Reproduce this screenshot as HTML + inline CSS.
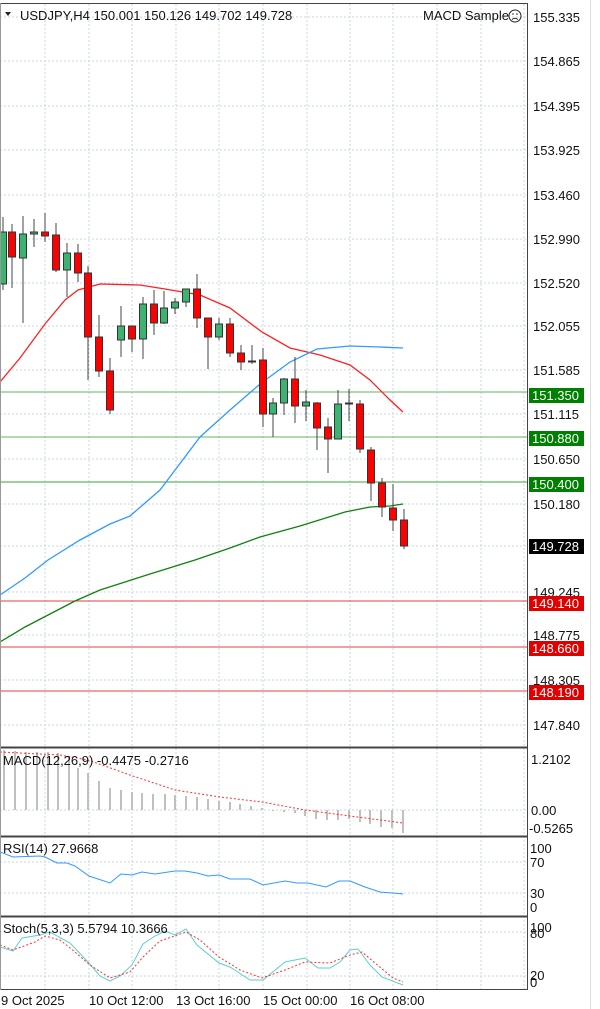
<!DOCTYPE html>
<html><head><meta charset="utf-8"><style>
body{margin:0;background:#fff;width:600px;height:1009px;overflow:hidden}
svg{display:block;font-family:"Liberation Sans",sans-serif}
</style></head><body>
<svg width="600" height="1009" viewBox="0 0 600 1009">
<rect width="600" height="1009" fill="#fff"/>
<g stroke="#c8d4e4" stroke-dasharray="2,2" stroke-width="1">
<line x1="45" y1="4" x2="45" y2="990"/><line x1="89" y1="4" x2="89" y2="990"/><line x1="132" y1="4" x2="132" y2="990"/><line x1="176" y1="4" x2="176" y2="990"/><line x1="219" y1="4" x2="219" y2="990"/><line x1="263" y1="4" x2="263" y2="990"/><line x1="307" y1="4" x2="307" y2="990"/><line x1="350" y1="4" x2="350" y2="990"/><line x1="393" y1="4" x2="393" y2="990"/><line x1="437" y1="4" x2="437" y2="990"/><line x1="481" y1="4" x2="481" y2="990"/><line x1="524" y1="4" x2="524" y2="990"/>
<line x1="0" y1="17" x2="527" y2="17"/><line x1="0" y1="61" x2="527" y2="61"/><line x1="0" y1="106" x2="527" y2="106"/><line x1="0" y1="150" x2="527" y2="150"/><line x1="0" y1="195" x2="527" y2="195"/><line x1="0" y1="239" x2="527" y2="239"/><line x1="0" y1="283" x2="527" y2="283"/><line x1="0" y1="326" x2="527" y2="326"/><line x1="0" y1="370" x2="527" y2="370"/><line x1="0" y1="414" x2="527" y2="414"/><line x1="0" y1="459" x2="527" y2="459"/><line x1="0" y1="504" x2="527" y2="504"/><line x1="0" y1="546" x2="527" y2="546"/><line x1="0" y1="592" x2="527" y2="592"/><line x1="0" y1="635" x2="527" y2="635"/><line x1="0" y1="680" x2="527" y2="680"/><line x1="0" y1="725" x2="527" y2="725"/>
<line x1="0" y1="810" x2="527" y2="810"/><line x1="0" y1="862" x2="527" y2="862"/><line x1="0" y1="893" x2="527" y2="893"/><line x1="0" y1="932" x2="527" y2="932"/><line x1="0" y1="976" x2="527" y2="976"/>
</g>
<g stroke-width="1">
<line x1="0" y1="392" x2="527" y2="392" stroke="#5cb85c"/><line x1="0" y1="437" x2="527" y2="437" stroke="#5cb85c"/><line x1="0" y1="482" x2="527" y2="482" stroke="#3aa63a"/>
<line x1="0" y1="601" x2="527" y2="601" stroke="#e04040"/><line x1="0" y1="647" x2="527" y2="647" stroke="#e04040"/><line x1="0" y1="691" x2="527" y2="691" stroke="#e04040"/>
</g>
<polyline fill="none" stroke="#ff2020" stroke-width="1.3" points="0,382 20,358 45,324 65,300 78,290 100,284 140,285 165,289 200,295 230,308 262,332 290,348 320,355 350,365 370,380 390,400 403,412"/>
<polyline fill="none" stroke="#3399ff" stroke-width="1.3" points="0,595 25,578 48,560 80,540 110,524 130,516 160,490 200,437 230,410 260,384 290,362 317,349 350,346 380,347 403,348"/>
<polyline fill="none" stroke="#108010" stroke-width="1.3" points="0,642 25,627 50,614 75,601 100,590 150,574 195,560 230,548 260,537 300,526 345,512 370,507 390,506 403,504"/>
<g stroke="#444" stroke-width="1">
<line x1="3" y1="217" x2="3" y2="290"/><line x1="12" y1="224" x2="12" y2="288"/><line x1="23" y1="216" x2="23" y2="323"/><line x1="34" y1="219" x2="34" y2="247"/><line x1="45" y1="213" x2="45" y2="242"/><line x1="56" y1="223" x2="56" y2="272"/><line x1="67" y1="243" x2="67" y2="297"/><line x1="78" y1="244" x2="78" y2="282"/><line x1="88" y1="266" x2="88" y2="380"/><line x1="99" y1="315" x2="99" y2="377"/><line x1="110" y1="358" x2="110" y2="414"/><line x1="121" y1="306" x2="121" y2="357"/><line x1="132" y1="326" x2="132" y2="352"/><line x1="143" y1="297" x2="143" y2="359"/><line x1="154" y1="290" x2="154" y2="335"/><line x1="164" y1="291" x2="164" y2="324"/><line x1="175" y1="298" x2="175" y2="314"/><line x1="186" y1="289" x2="186" y2="307"/><line x1="197" y1="274" x2="197" y2="328"/><line x1="208" y1="318" x2="208" y2="369"/><line x1="219" y1="318" x2="219" y2="340"/><line x1="230" y1="318" x2="230" y2="357"/><line x1="241" y1="345" x2="241" y2="370"/><line x1="252" y1="345" x2="252" y2="364"/><line x1="263" y1="348" x2="263" y2="427"/><line x1="273" y1="398" x2="273" y2="437"/><line x1="284" y1="378" x2="284" y2="415"/><line x1="295" y1="357" x2="295" y2="423"/><line x1="306" y1="390" x2="306" y2="421"/><line x1="317" y1="402" x2="317" y2="450"/><line x1="328" y1="418" x2="328" y2="473"/><line x1="338" y1="390" x2="338" y2="439"/><line x1="349" y1="389" x2="349" y2="421"/><line x1="360" y1="400" x2="360" y2="453"/><line x1="371" y1="447" x2="371" y2="501"/><line x1="382" y1="478" x2="382" y2="517"/><line x1="393" y1="484" x2="393" y2="531"/><line x1="404" y1="509" x2="404" y2="549"/>
</g>
<g stroke="#333" stroke-width="1">
<rect x="-0.5" y="232" width="7" height="52" fill="#3cb371"/><rect x="8.5" y="232" width="7" height="25" fill="#f00"/><rect x="19.5" y="234" width="7" height="24" fill="#3cb371"/><rect x="30.5" y="232" width="7" height="2" fill="#3cb371"/><rect x="41.5" y="232" width="7" height="4" fill="#f00"/><rect x="52.5" y="235" width="7" height="35" fill="#f00"/><rect x="63.5" y="253" width="7" height="17" fill="#3cb371"/><rect x="74.5" y="253" width="7" height="20" fill="#f00"/><rect x="84.5" y="273" width="7" height="64" fill="#f00"/><rect x="95.5" y="337" width="7" height="34" fill="#f00"/><rect x="106.5" y="371" width="7" height="39" fill="#f00"/><rect x="117.5" y="326" width="7" height="14" fill="#3cb371"/><rect x="128.5" y="326" width="7" height="13" fill="#f00"/><rect x="139.5" y="304" width="7" height="35" fill="#3cb371"/><rect x="150.5" y="304" width="7" height="19" fill="#f00"/><rect x="160.5" y="308" width="7" height="15" fill="#3cb371"/><rect x="171.5" y="302" width="7" height="6" fill="#3cb371"/><rect x="182.5" y="289" width="7" height="13" fill="#3cb371"/><rect x="193.5" y="289" width="7" height="29" fill="#f00"/><rect x="204.5" y="318" width="7" height="19" fill="#f00"/><rect x="215.5" y="324" width="7" height="13" fill="#3cb371"/><rect x="226.5" y="324" width="7" height="29" fill="#f00"/><rect x="237.5" y="353" width="7" height="9" fill="#f00"/><rect x="248.5" y="361" width="7" height="1" fill="#3cb371"/><rect x="259.5" y="360" width="7" height="54" fill="#f00"/><rect x="269.5" y="403" width="7" height="11" fill="#3cb371"/><rect x="280.5" y="379" width="7" height="24" fill="#3cb371"/><rect x="291.5" y="379" width="7" height="27" fill="#f00"/><rect x="302.5" y="402" width="7" height="4" fill="#3cb371"/><rect x="313.5" y="403" width="7" height="25" fill="#f00"/><rect x="324.5" y="427" width="7" height="12" fill="#f00"/><rect x="334.5" y="404" width="7" height="35" fill="#3cb371"/><rect x="345.5" y="403" width="7" height="1" fill="#3cb371"/><rect x="356.5" y="404" width="7" height="45" fill="#f00"/><rect x="367.5" y="450" width="7" height="33" fill="#f00"/><rect x="378.5" y="483" width="7" height="24" fill="#f00"/><rect x="389.5" y="508" width="7" height="12" fill="#f00"/><rect x="400.5" y="520" width="7" height="26" fill="#f00"/>
</g>
<g stroke="#c0c0c0" stroke-width="2">
<line x1="4" y1="810" x2="4" y2="750"/><line x1="15" y1="810" x2="15" y2="751"/><line x1="26" y1="810" x2="26" y2="752"/><line x1="37" y1="810" x2="37" y2="752"/><line x1="48" y1="810" x2="48" y2="752"/><line x1="58" y1="810" x2="58" y2="753"/><line x1="69" y1="810" x2="69" y2="756"/><line x1="78" y1="810" x2="78" y2="768"/><line x1="88" y1="810" x2="88" y2="773"/><line x1="99" y1="810" x2="99" y2="781"/><line x1="110" y1="810" x2="110" y2="788"/><line x1="121" y1="810" x2="121" y2="790"/><line x1="132" y1="810" x2="132" y2="792"/><line x1="142" y1="810" x2="142" y2="793"/><line x1="153" y1="810" x2="153" y2="794"/><line x1="165" y1="810" x2="165" y2="794"/><line x1="175" y1="810" x2="175" y2="795"/><line x1="186" y1="810" x2="186" y2="796"/><line x1="197" y1="810" x2="197" y2="797"/><line x1="208" y1="810" x2="208" y2="799"/><line x1="219" y1="810" x2="219" y2="801"/><line x1="230" y1="810" x2="230" y2="802"/><line x1="240" y1="810" x2="240" y2="804"/><line x1="251" y1="810" x2="251" y2="806"/><line x1="262" y1="810" x2="262" y2="808"/><line x1="273" y1="810" x2="273" y2="811"/><line x1="284" y1="810" x2="284" y2="812"/><line x1="295" y1="810" x2="295" y2="813"/><line x1="305" y1="810" x2="305" y2="816"/><line x1="316" y1="810" x2="316" y2="819"/><line x1="327" y1="810" x2="327" y2="820"/><line x1="338" y1="810" x2="338" y2="820"/><line x1="349" y1="810" x2="349" y2="819"/><line x1="360" y1="810" x2="360" y2="822"/><line x1="370" y1="810" x2="370" y2="824"/><line x1="381" y1="810" x2="381" y2="827"/><line x1="392" y1="810" x2="392" y2="828"/><line x1="403" y1="810" x2="403" y2="833"/>
</g>
<polyline fill="none" stroke="#ff3030" stroke-dasharray="2,2" points="0,752 60,755 88,760 130,775 175,790 220,797 262,802 305,810 350,816 403,823"/>
<polyline fill="none" stroke="#3399ff" stroke-width="1" points="0,852 13,857 40,856 45,857 57,863 67,863 75,866 89,876 110,883 121,874 132,875 142,872 155,874 175,871 185,871 197,873 208,876 219,875 230,879 250,879 263,885 285,881 297,883 308,883 326,887 339,881 350,881 365,887 380,892 393,893 403,894"/>
<polyline fill="none" stroke="#5ccfcf" stroke-width="1" points="0,947 13,951 22,938 40,935 50,932 70,943 88,962 100,976 110,981 120,976 132,965 143,944 155,936 165,931 175,935 186,929 197,945 219,963 230,967 250,980 263,980 285,962 305,958 318,968 330,968 340,962 350,950 358,949 370,965 382,977 403,985"/>
<polyline fill="none" stroke="#ff3030" stroke-dasharray="2,2" points="0,945 13,950 35,942 45,936 60,940 75,952 90,965 110,978 130,972 143,957 160,941 186,932 200,940 219,957 240,970 262,978 285,970 305,962 330,963 350,955 362,952 375,963 393,978 403,982"/>
<g stroke="#444" fill="none" stroke-width="1">
<line x1="0" y1="3.5" x2="528" y2="3.5"/>
<line x1="527.5" y1="3" x2="527.5" y2="990"/>
<line x1="0" y1="747.5" x2="528" y2="747.5" stroke-width="2"/>
<line x1="0" y1="836.5" x2="528" y2="836.5" stroke-width="2"/>
<line x1="0" y1="916.5" x2="528" y2="916.5" stroke-width="2"/>
<line x1="0" y1="989.5" x2="528" y2="989.5"/>
<line x1="0.5" y1="3" x2="0.5" y2="990" stroke="#999"/>
</g>
<line x1="590.5" y1="0" x2="590.5" y2="1009" stroke="#ddd"/>
<g font-size="13" fill="#111">
<path d="M5,12 L11,12 L8,16 Z" fill="#222"/>
<text x="20" y="20">USDJPY,H4  150.001 150.126 149.702 149.728</text>
<text x="423" y="20">MACD Sample</text>
<circle cx="515" cy="16" r="6" fill="none" stroke="#222"/>
<circle cx="513" cy="14" r="0.8" fill="#222"/><circle cx="517" cy="14" r="0.8" fill="#222"/>
<path d="M512,19.5 Q515,17 518,19.5" fill="none" stroke="#222"/>
<text x="3" y="765">MACD(12,26,9) -0.4475 -0.2716</text>
<text x="3" y="853">RSI(14) 27.9668</text>
<text x="3" y="933">Stoch(5,3,3) 5.5794 10.3666</text>
<text x="1" y="1005">9 Oct 2025</text>
<text x="89" y="1005">10 Oct 12:00</text>
<text x="176" y="1005">13 Oct 16:00</text>
<text x="263" y="1005">15 Oct 00:00</text>
<text x="350" y="1005">16 Oct 08:00</text>
</g>
<g font-size="13" fill="#111">
<text x="533" y="22">155.335</text><text x="533" y="66">154.865</text><text x="533" y="111">154.395</text><text x="533" y="155">153.925</text><text x="533" y="200">153.460</text><text x="533" y="244">152.990</text><text x="533" y="288">152.520</text><text x="533" y="331">152.055</text><text x="533" y="375">151.585</text><text x="533" y="419">151.115</text><text x="533" y="464">150.650</text><text x="533" y="509">150.180</text><text x="533" y="597">149.245</text><text x="533" y="640">148.775</text><text x="533" y="685">148.305</text><text x="533" y="730">147.840</text>
<text x="531" y="764">1.2102</text><text x="531" y="815">0.00</text><text x="529" y="833">-0.5265</text>
<text x="530" y="853">100</text><text x="530" y="867">70</text><text x="530" y="898">30</text><text x="530" y="912">0</text>
<text x="530" y="932">100</text><text x="530" y="938">80</text><text x="530" y="980">20</text><text x="530" y="987">0</text>
</g>
<rect x="529" y="388" width="55" height="15" fill="#008000"/><rect x="529" y="431" width="55" height="15" fill="#008000"/><rect x="529" y="477" width="55" height="15" fill="#008000"/>
<rect x="529" y="539" width="55" height="15" fill="#000"/>
<rect x="529" y="596" width="55" height="15" fill="#e00000"/><rect x="529" y="641" width="55" height="15" fill="#e00000"/><rect x="529" y="685" width="55" height="15" fill="#e00000"/>
<g font-size="13" fill="#fff">
<text x="532" y="400">151.350</text><text x="532" y="443">150.880</text><text x="532" y="489">150.400</text><text x="532" y="551">149.728</text><text x="532" y="608">149.140</text><text x="532" y="653">148.660</text><text x="532" y="697">148.190</text>
</g>
</svg>
</body></html>
